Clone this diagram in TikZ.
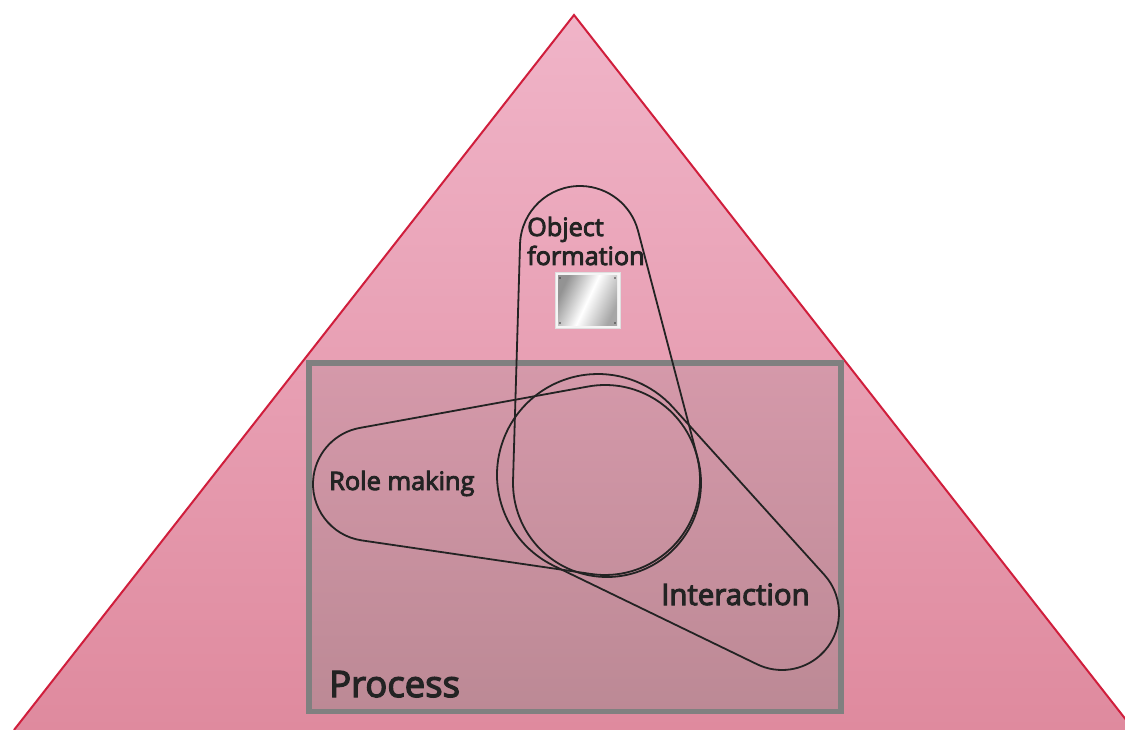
\documentclass[tikz,border=0pt]{standalone}
\usepackage{fontspec}
\usetikzlibrary{calc}
\setmainfont{Open Sans}
\newfontfamily\diagfont{Open Sans}[FakeBold=3.5]
\definecolor{pyrtop}{RGB}{240,180,200}
\definecolor{pyrbot}{RGB}{223,138,158}
\definecolor{pyredge}{RGB}{208,30,60}
\definecolor{proctop}{RGB}{213,153,170}
\definecolor{procbot}{RGB}{188,137,149}
\definecolor{ink}{RGB}{35,35,35}
\tikzset{
  blob/.style={draw=ink, line width=1.8pt, line join=round},
  txt/.style={inner sep=0pt, anchor=base west, text=ink, align=left}
}
\begin{document}
\begin{tikzpicture}[x=1pt,y=-1pt]

        \useasboundingbox (0,0) rectangle (1125,730);
        \clip (0,0) rectangle (1125,730);

        \fill[top color=pyrtop, bottom color=pyrbot] (574,15) -- (1134,730) -- (14,730) -- cycle;
        \draw[pyredge, line width=2pt] (14,730) -- (574,15) -- (1134,730);

        \draw[gray, line width=5.5pt, top color=proctop, bottom color=procbot]
          (309,363) rectangle (841,711.5);

        \coordinate (top)   at (580,246);
        \coordinate (low)   at (607,483);
        \coordinate (hub)   at (605,480);
        \coordinate (rear)  at (370,484);
        \coordinate (big)   at (598,475);
        \coordinate (front) at (782,613);

        \begin{scope}[every path/.style={blob}]
          \draw ($(low)+(181.7:94)$) -- ($(top)+(181.7:60)$)
            arc[start angle=181.7, end angle=345.3, radius=60]
            -- ($(low)+(-14.7:94)$)
            arc[start angle=-14.7, end angle=181.7, radius=94] -- cycle;
          \draw ($(rear)+(98.3:57)$)
            arc[start angle=98.3, end angle=259.7, radius=57]
            -- ($(hub)+(-100.3:95)$)
            arc[start angle=-100.3, end angle=98.3, radius=95] -- cycle;
          \draw ($(big)+(115.9:101)$)
            arc[start angle=115.9, end angle=317.9, radius=101]
            -- ($(front)+(-42.1:57)$)
            arc[start angle=-42.1, end angle=115.9, radius=57] -- cycle;
        \end{scope}

        \draw[gray!25, fill=gray!8, line width=0.8pt] (555,272) rectangle (620,328);
        \shade[left color=gray!85, right color=gray!70, middle color=white, shading angle=65]
          (558,276) rectangle (617,325);
        \foreach \px/\py in {560/278, 615/278, 560/323, 615/323}
          \fill[gray!40!black] (\px,\py) circle[radius=0.9];

        \begin{scope}[every node/.style={txt}]
          \node[font=\diagfont\fontsize{25.2}{29}\selectfont] (object) at (527,265) {Object\\formation};
          \node[font=\diagfont\fontsize{25.4}{30}\selectfont] (role) at (329,490) {Role making};
          \node[font=\diagfont\fontsize{29.4}{34}\selectfont] (inter) at (661,605) {Interaction};
          \node[font=\diagfont\fontsize{36.5}{40}\selectfont] (process) at (329,697) {Process};
        \end{scope}

      \end{tikzpicture}
\end{document}
